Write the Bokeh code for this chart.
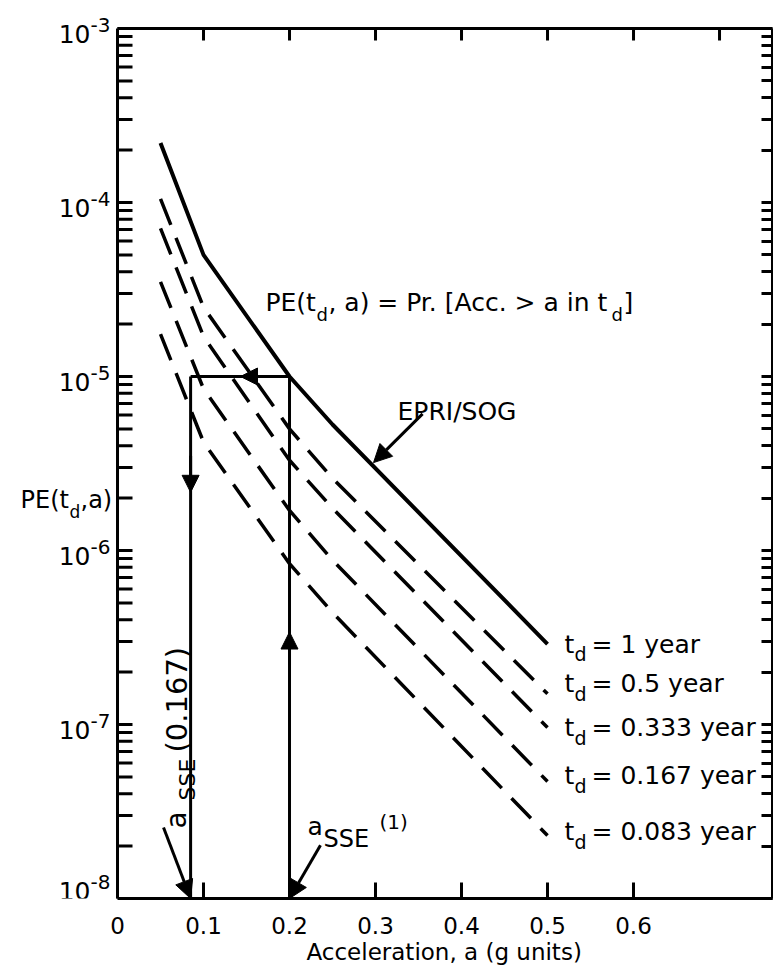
import numpy as np
from bokeh.plotting import figure
from bokeh.models import (LogAxis, FixedTicker, Label, Arrow, NormalHead,
                          Range1d, Title)
from bokeh.embed import file_html
from bokeh.resources import INLINE

# ---------------- data ----------------
accel = [0.05, 0.10, 0.20, 0.25, 0.50]          # acceleration, g
pe_1yr   = [2.2e-4, 5.0e-5, 1.0e-5, 5.3e-6, 2.9e-7]   # EPRI/SOG, t_d = 1 year
pe_0500 = [1.05e-4, 2.5e-5, 5.0e-6, 2.6e-6, 1.5e-7]   # t_d = 0.5 year
pe_0333 = [7.1e-5, 1.7e-5, 3.3e-6, 1.75e-6, 9.6e-8]   # t_d = 0.333 year
pe_0167 = [3.5e-5, 8.5e-6, 1.7e-6, 8.8e-7, 4.7e-8]    # t_d = 0.167 year
pe_0083 = [1.75e-5, 4.2e-6, 8.4e-7, 4.4e-7, 2.3e-8]   # t_d = 0.083 year
td_labels = ["1 year", "0.5 year", "0.333 year", "0.167 year", "0.083 year"]
td_label_dy = [0, 10, 0, 6, 4]

pe_target = 1.0e-5        # target probability
a_sse_1 = 0.20            # a_SSE(1)
a_sse_0167 = 0.085        # a_SSE(0.167)

x_ticks = [0, 0.1, 0.2, 0.3, 0.4, 0.5, 0.6]
x_tick_labels = ["0", "0.1", "0.2", "0.3", "0.4", "0.5", "0.6"]
x_title = "Acceleration, a (g units)"
top_ticks = [0.1, 0.2, 0.3, 0.4, 0.5, 0.6, 0.7]
y_decades = [1e-8, 1e-7, 1e-6, 1e-5, 1e-4, 1e-3]
y_exponents = ["-8", "-7", "-6", "-5", "-4", "-3"]
y_label_lift = [17, 4, 4, 4, 4, 4]
y_minor = [k * d for d in y_decades[:-1] for k in range(2, 10)]

X_MIN, X_MAX = 0.0, 0.7616
Y_MIN, Y_MAX = 1e-8, 1e-3
Y_TOP = Y_MAX * 10 ** (28 / 174)   # room above the top axis for its label
FONT = "DejaVu Sans"

# frame covers the left and top margins so that the axis texts are drawn
p = figure(width=773, height=971, y_axis_type="log", y_axis_location=None,
           x_range=Range1d(-0.13605, X_MAX), y_range=Range1d(Y_MIN, Y_TOP),
           output_backend="svg", toolbar_location=None,
           min_border_left=0, min_border_right=1, min_border_top=0,
           min_border_bottom=73)
p.grid.visible = False
p.outline_line_color = None
p.background_fill_color = "white"
p.border_fill_color = "white"

blank_y = {d: "" for d in y_decades}

# left axis (line at a = 0 with inward ticks)
p.line([X_MIN, X_MIN], [Y_MIN, Y_MAX], line_color="black", line_width=3)
left_ticks = y_decades + y_minor
p.ray(x=[X_MIN] * len(left_ticks), y=left_ticks, length=15,
      length_units="screen", angle=0, line_color="black", line_width=3)

# top axis (line at PE = 1e-3 with inward ticks)
p.line([X_MIN, X_MAX], [Y_MAX, Y_MAX], line_color="black", line_width=3)
p.ray(x=top_ticks, y=[Y_MAX] * len(top_ticks), length=12,
      length_units="screen", angle=-np.pi / 2, line_color="black",
      line_width=3)

# bottom axis
xa = p.xaxis[0]
xa.bounds = (X_MIN, X_MAX)
xa.ticker = FixedTicker(ticks=x_ticks)
xa.major_label_overrides = {t: l for t, l in zip(x_ticks, x_tick_labels)}
xa.major_tick_in = 16
xa.major_tick_out = 0
xa.minor_tick_in = 0
xa.minor_tick_out = 0
xa.axis_line_width = 3
xa.major_tick_line_width = 3
xa.major_label_text_font = FONT
xa.major_label_text_font_size = "23px"
xa.major_label_text_color = "black"
xa.major_label_standoff = 18

# x-axis title, centred under the a >= 0 part of the axis
p.add_layout(Title(text=x_title, align="left", offset=306, standoff=0,
                   text_font=FONT, text_font_size="23px",
                   text_font_style="normal", text_color="black"), "below")

# right axis
ra = LogAxis(ticker=FixedTicker(ticks=y_decades, minor_ticks=y_minor),
             bounds=(Y_MIN, Y_MAX),
             major_label_overrides=blank_y, major_label_standoff=0,
             major_tick_in=11, major_tick_out=0,
             minor_tick_in=11, minor_tick_out=0,
             axis_line_width=3, major_tick_line_width=3,
             minor_tick_line_width=3)
p.add_layout(ra, "right")

# curves
p.line(accel, pe_1yr, line_color="black", line_width=4)
for series in [pe_0500, pe_0333, pe_0167, pe_0083]:
    p.line(accel, series, line_color="black", line_width=3.5,
           line_dash="28 14")

# construction lines
p.line([a_sse_0167, a_sse_1], [pe_target, pe_target], line_color="black", line_width=3)
p.line([a_sse_1, a_sse_1], [Y_MIN, pe_target], line_color="black", line_width=3)
p.line([a_sse_0167, a_sse_0167], [pe_target, Y_MIN], line_color="black", line_width=3)


def head(size):
    return NormalHead(size=size, fill_color="black", line_color="black",
                      line_width=1)


def arrow(xs, ys, xe, ye, size=16, lw=3):
    p.add_layout(Arrow(x_start=xs, y_start=ys, x_end=xe, y_end=ye,
                       end=head(size), line_color="black", line_width=lw))


# path arrowheads
arrow(0.16, pe_target, 0.143, pe_target, 17)
arrow(a_sse_0167, 3.5e-6, a_sse_0167, 2.16e-6, 17)
arrow(a_sse_1, 2.2e-7, a_sse_1, 3.4e-7, 17)

# annotation arrows
arrow(0.3547, 6.1e-6, 0.2977, 3.2e-6, 18)
arrow(0.0535, 2.56e-8, a_sse_0167, Y_MIN, 18)
arrow(0.236, 2.02e-8, a_sse_1, Y_MIN, 18)


def txt(x, y, text, size=24, dx=0, dy=0, align="left", angle=0.0,
        baseline="alphabetic"):
    p.add_layout(Label(x=x, y=y, text=text, x_offset=dx, y_offset=dy,
                       text_font=FONT, text_font_size=f"{size}px",
                       text_align=align, text_baseline=baseline,
                       angle=angle, text_color="black"))


# y tick labels 10^n
for d, e, lift in zip(y_decades, y_exponents, y_label_lift):
    txt(X_MIN, d, "10", 25, dx=-27, dy=-9 + lift, align="right")
    txt(X_MIN, d, e, 20, dx=-27, dy=lift, align="left")

# y axis label PE(t_d,a)
ylab_y = 1.94e-6
txt(X_MIN, ylab_y, "PE(t", 24, dx=-97)
txt(X_MIN, ylab_y, "d", 17, dx=-48, dy=-12)
txt(X_MIN, ylab_y, ",a)", 24, dx=-37)

# formula
fx, fy = 0.172, 2.66e-5
txt(fx, fy, "PE(t", 25, dx=0)
txt(fx, fy, "d", 18, dx=51, dy=-12)
txt(fx, fy, ", a) = Pr. [Acc. > a in t", 25, dx=63)
txt(fx, fy, "d", 18, dx=346, dy=-12)
txt(fx, fy, "]", 25, dx=358)

# EPRI/SOG
txt(0.3256, 6.3e-6, "EPRI/SOG", 25)

# t_d labels at curve ends
for series, lab, ddy in zip([pe_1yr, pe_0500, pe_0333, pe_0167, pe_0083],
                            td_labels, td_label_dy):
    xe, ye = accel[-1], series[-1]
    txt(xe, ye, "t", 25, dx=17, dy=ddy)
    txt(xe, ye, "d", 19, dx=27, dy=ddy - 10)
    txt(xe, ye, " = " + lab, 25, dx=44, dy=ddy)

# a_SSE(0.167) rotated label
ang = np.pi / 2
txt(a_sse_0167, Y_MIN, "a", 28, dx=-14, dy=70, angle=ang)
txt(a_sse_0167, Y_MIN, "SSE", 22, dx=-3, dy=98, angle=ang)
txt(a_sse_0167, Y_MIN, "(0.167)", 29, dx=-14, dy=146, angle=ang)

# a_SSE(1) label
txt(a_sse_1, Y_MIN, "a", 25, dx=18, dy=72)
txt(a_sse_1, Y_MIN, "SSE", 24, dx=34, dy=60)
txt(a_sse_1, Y_MIN, "(1)", 20, dx=90, dy=77)

open("out.html", "w").write(file_html(p, INLINE))
